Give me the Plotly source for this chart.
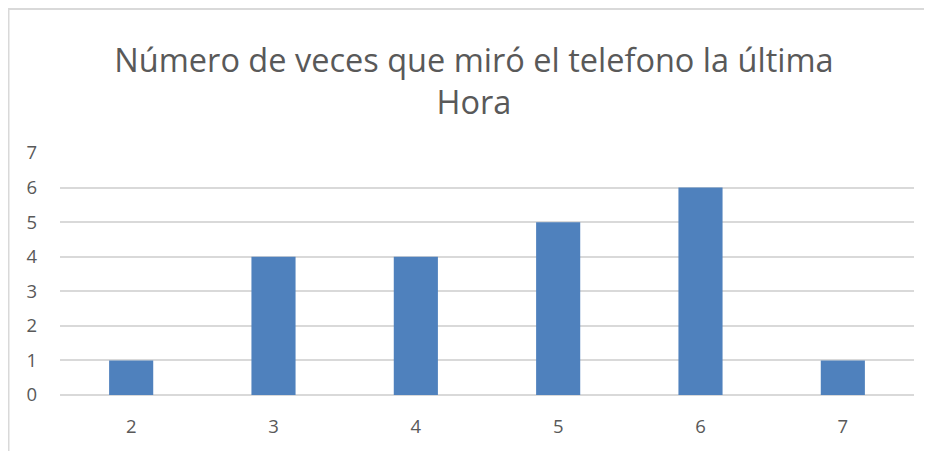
import plotly.graph_objects as go

categories = ["2", "3", "4", "5", "6", "7"]
values = [1, 4, 4, 5, 6, 1]
y_ticks = [0, 1, 2, 3, 4, 5, 6, 7]
title_text = "Número de veces que miró el telefono la última<br>Hora"

W, H = 932, 451
ml, mr, mt, mb = 52, 26, 145, 64
pw = W - ml - mr
ph = H - mt - mb

fig = go.Figure()
fig.add_trace(go.Bar(x=categories, y=values, marker=dict(color="#4f81bd", line=dict(width=0)),
                     width=0.31))

fig.update_layout(
    width=W, height=H,
    margin=dict(l=ml, r=mr, t=mt, b=mb),
    paper_bgcolor="white", plot_bgcolor="white",
    showlegend=False,
    font=dict(family="Open Sans", color="#595959"),
    title=dict(text=title_text, x=0.5, xanchor="center", y=1 - 64 / H, yanchor="middle",
               font=dict(size=32.5, color="#595959", family="Open Sans")),
    xaxis=dict(type="category", showgrid=False, showline=False, ticks="",
               tickfont=dict(size=18.5, color="#595959"), ticklabelstandoff=18),
    yaxis=dict(range=[0, 7], tickvals=y_ticks, showgrid=True, gridcolor="#d9d9d9", gridwidth=1.5,
               zeroline=True, zerolinecolor="#d9d9d9", zerolinewidth=1.5,
               showline=False, ticks="", tickfont=dict(size=18.5, color="#595959"),
               ticklabelstandoff=22),
)

# chart border (left and top edges visible)
x0 = (0.5 - ml) / pw
x1 = (W + 5 - ml) / pw
yt = 1 + (mt - 1) / ph
yb = -(H + 5 - mt - ph) / ph
fig.add_shape(type="rect", xref="paper", yref="paper", x0=x0, x1=x1, y0=yb, y1=yt,
              line=dict(color="#d9d9d9", width=2), fillcolor="rgba(0,0,0,0)", layer="below")

fig.write_html("out.html")
